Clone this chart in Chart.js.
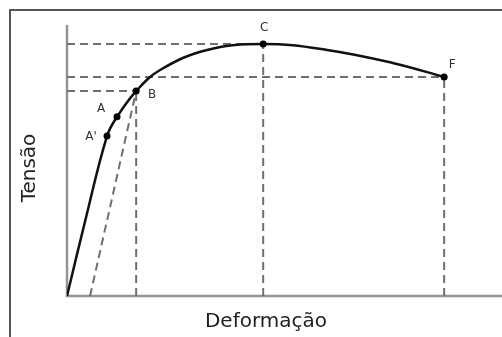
<!DOCTYPE html>
<html>
<head>
<meta charset="utf-8">
<script src="https://cdn.jsdelivr.net/npm/chart.js@4"></script>
<style>
  html, body { margin: 0; padding: 0; background: #fff; }
  #wrap { width: 502px; height: 337px; }
</style>
</head>
<body>
<div id="wrap"><canvas id="curveChart"></canvas></div>
<script>
// stress-strain curve, arbitrary units (0-100 on both axes)
const curveX = [0, 4.3, 9.2, 11.5, 15.9, 21.4, 32.2, 45.1, 59.8, 74.9, 86.7];
const curveY = [0, 28.5, 59.0, 66.1, 75.6, 83.4, 90.8, 93.0, 90.8, 86.0, 80.8];

const pointNames = ["A'", 'A', 'B', 'C', 'F'];
const pointX = [9.2, 11.5, 15.9, 45.1, 86.7];
const pointY = [59.0, 66.1, 75.6, 93.0, 80.8];

// parallel offset line starts here on the strain axis
const offsetStartX = 5.3;

const xTitle = 'Deformação';
const yTitle = 'Tensão';

document.addEventListener('DOMContentLoaded', () => {
    const ctx = document.getElementById('curveChart').getContext('2d');

    const xy = (xs, ys) => xs.map((x, i) => ({ x: x, y: ys[i] }));

    const guideStyle = {
        type: 'scatter',
        showLine: true,
        borderColor: '#6f6f6f',
        borderWidth: 2,
        borderDash: [8, 5],
        pointRadius: 0,
        fill: false
    };

    // dashed guides from B, C and F back to both axes
    const guides = [];
    [2, 3, 4].forEach(i => {
        guides.push(Object.assign({}, guideStyle, { data: [{ x: 0, y: pointY[i] }, { x: pointX[i], y: pointY[i] }] }));
        guides.push(Object.assign({}, guideStyle, { data: [{ x: pointX[i], y: 0 }, { x: pointX[i], y: pointY[i] }] }));
    });
    guides.push(Object.assign({}, guideStyle, { data: [{ x: offsetStartX, y: 0 }, { x: pointX[2], y: pointY[2] }] }));

    const labelOffsets = [[-16, 1], [-16, -8], [16, 4], [1, -16], [8, -12]];

    const decor = {
        id: 'decor',
        beforeDatasetsDraw(chart) {
            const c = chart.ctx;
            const a = chart.chartArea;
            c.save();
            // outer frame
            c.strokeStyle = '#555';
            c.lineWidth = 2;
            c.strokeRect(10, 10, 600, 400);
            // axes
            c.strokeStyle = '#9b8f9b';
            c.lineWidth = 2.5;
            c.beginPath();
            c.moveTo(a.left, a.top);
            c.lineTo(a.left, a.bottom);
            c.lineTo(a.right, a.bottom);
            c.stroke();
            // axis titles
            c.fillStyle = '#222';
            c.font = '20px "DejaVu Sans"';
            c.textAlign = 'center';
            c.textBaseline = 'alphabetic';
            c.fillText(xTitle, 266, 327);
            c.translate(35, 168);
            c.rotate(-Math.PI / 2);
            c.fillText(yTitle, 0, 0);
            c.restore();
        },
        afterDatasetsDraw(chart) {
            const c = chart.ctx;
            const xs = chart.scales.x;
            const ys = chart.scales.y;
            c.save();
            c.fillStyle = '#333';
            c.font = '12px "DejaVu Sans"';
            c.textAlign = 'center';
            c.textBaseline = 'middle';
            pointNames.forEach((name, i) => {
                const px = xs.getPixelForValue(pointX[i]);
                const py = ys.getPixelForValue(pointY[i]);
                c.fillText(name, px + labelOffsets[i][0], py + labelOffsets[i][1]);
            });
            c.restore();
        }
    };

    new Chart(ctx, {
        type: 'scatter',
        data: {
            datasets: [
                {
                    data: xy(pointX, pointY),
                    pointRadius: 3.5,
                    pointBackgroundColor: '#000',
                    pointBorderWidth: 0,
                    showLine: false
                },
                {
                    data: xy(curveX, curveY),
                    showLine: true,
                    borderColor: '#111',
                    borderWidth: 2.5,
                    pointRadius: 0,
                    tension: 0.4,
                    fill: false
                },
                ...guides
            ]
        },
        plugins: [decor],
        options: {
            responsive: true,
            maintainAspectRatio: false,
            animation: false,
            layout: { autoPadding: false, padding: { left: 67, top: 25, right: 0, bottom: 41 } },
            plugins: {
                legend: { display: false },
                tooltip: { enabled: false }
            },
            scales: {
                x: { type: 'linear', min: 0, max: 100, display: false },
                y: { type: 'linear', min: 0, max: 100, display: false }
            }
        }
    });
});
</script>
</body>
</html>
